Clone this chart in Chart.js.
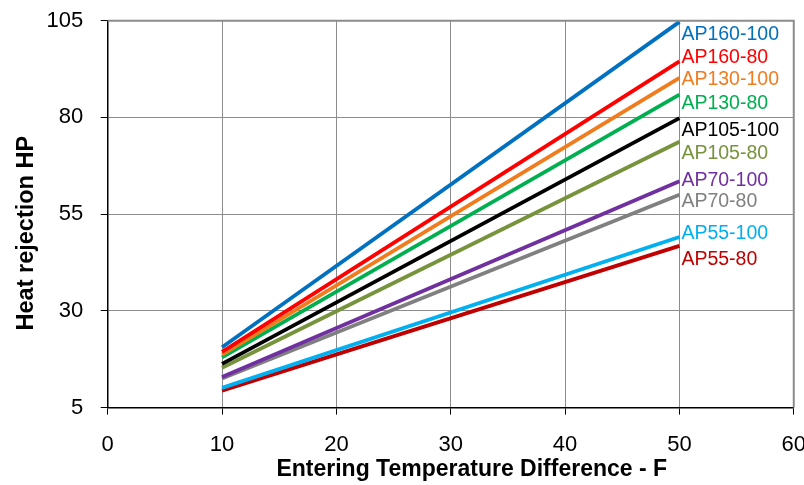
<!DOCTYPE html>
<html>
<head>
<meta charset="utf-8">
<script src="https://cdn.jsdelivr.net/npm/chart.js@4"></script>
<style>
  html, body { margin: 0; padding: 0; background: #fff; overflow: hidden; }
  #wrap { width: 823px; height: 495px; margin-top: -10px; }
</style>
</head>
<body>
<div id="wrap"><canvas id="chart"></canvas></div>
<script>
// Heat rejection vs entering temperature difference
const xValues = [10, 50];
const seriesNames = ['AP160-100', 'AP160-80', 'AP130-100', 'AP130-80', 'AP105-100',
                     'AP105-80', 'AP70-100', 'AP70-80', 'AP55-100', 'AP55-80'];
const startHP = [20.6, 19.4, 18.7, 18.0, 16.3, 15.3, 12.9, 12.5, 10.1, 9.4];
const endHP = [104.7, 94.5, 90.2, 85.9, 79.8, 73.7, 63.5, 60.0, 49.1, 46.8];
const seriesColors = ['#0070C0', '#FF0000', '#F07C1E', '#00B050', '#000000',
                      '#77933C', '#7030A0', '#808080', '#00B0F0', '#C00000'];
const yTicks = [5, 30, 55, 80, 105];
const xTitle = 'Entering Temperature Difference - F';
const yTitle = 'Heat rejection HP';

// label nudges (px) so the end labels don't collide
const labelShift = [13, -4, 2, 9, 12, 12, -1, 7, -3, 14];

const FONT = '"Liberation Sans", Arial, sans-serif';

const endLabels = {
    id: 'endLabels',
    afterDatasetsDraw(chart) {
        const ctx = chart.ctx;
        ctx.save();
        ctx.font = '19.5px ' + FONT;
        ctx.textAlign = 'left';
        ctx.textBaseline = 'middle';
        chart.data.datasets.forEach((ds, i) => {
            const pts = chart.getDatasetMeta(i).data;
            const p = pts[pts.length - 1];
            ctx.fillStyle = ds.borderColor;
            ctx.fillText(ds.label, p.x + 2, p.y + labelShift[i]);
        });
        ctx.restore();
    }
};

// axis titles sit off-centre in the original, so draw them by hand
const axisTitles = {
    id: 'axisTitles',
    afterDraw(chart) {
        const a = chart.chartArea;
        const ctx = chart.ctx;
        ctx.save();
        ctx.fillStyle = '#000';
        ctx.font = 'bold 23px ' + FONT;
        ctx.textAlign = 'center';
        ctx.textBaseline = 'middle';
        ctx.fillText(xTitle, (a.left + a.right) / 2 + 21, chart.height - 15);
        ctx.translate(27, (a.top + a.bottom) / 2 + 19);
        ctx.rotate(-Math.PI / 2);
        ctx.font = 'bold 23.5px ' + FONT;
        ctx.fillText(yTitle, 0, 0);
        ctx.restore();
    }
};

new Chart(document.getElementById('chart'), {
    type: 'line',
    data: {
        datasets: seriesNames.map((name, i) => ({
            label: name,
            data: xValues.map((x, j) => ({ x: x, y: j === 0 ? startHP[i] : endHP[i] })),
            borderColor: seriesColors[i],
            backgroundColor: seriesColors[i],
            borderWidth: 3.8,
            pointRadius: 0,
            tension: 0
        }))
    },
    options: {
        responsive: true,
        maintainAspectRatio: false,
        animation: false,
        layout: {
            padding: { left: 29, top: 0, right: 0, bottom: 10 }
        },
        plugins: {
            legend: { display: false },
            tooltip: { enabled: false }
        },
        scales: {
            x: {
                type: 'linear',
                min: 0,
                max: 60,
                ticks: {
                    stepSize: 10,
                    color: '#000',
                    padding: 17,
                    maxRotation: 0,
                    font: { family: FONT, size: 22 }
                },
                grid: {
                    color: '#8c8c8c',
                    lineWidth: 1,
                    tickLength: 7,
                    tickColor: '#000'
                },
                border: { color: '#000', width: 1.5 }
            },
            y: {
                min: 5,
                max: 105,
                afterBuildTicks(axis) {
                    axis.ticks = yTicks.map(v => ({ value: v }));
                },
                ticks: {
                    color: '#000',
                    padding: 17.5,
                    font: { family: FONT, size: 22 }
                },
                grid: {
                    color: '#8c8c8c',
                    lineWidth: 1,
                    tickLength: 7,
                    tickColor: '#000'
                },
                border: { color: '#000', width: 1.5 }
            }
        }
    },
    plugins: [endLabels, axisTitles, {
        id: 'frame',
        afterDraw(chart) {
            const a = chart.chartArea;
            const ctx = chart.ctx;
            ctx.save();
            ctx.strokeStyle = '#8c8c8c';
            ctx.lineWidth = 2;
            ctx.beginPath();
            ctx.moveTo(a.left, a.top);
            ctx.lineTo(a.right, a.top);
            ctx.lineTo(a.right, a.bottom);
            ctx.stroke();
            ctx.restore();
        }
    }]
});
</script>
</body>
</html>
